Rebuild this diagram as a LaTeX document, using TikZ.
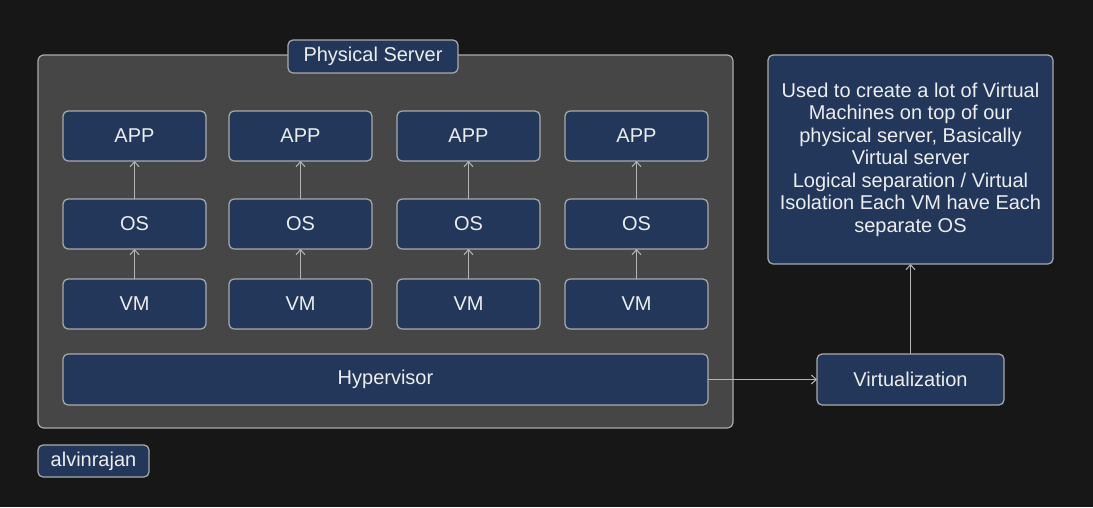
\documentclass[tikz,border=0pt]{standalone}
\usepackage{fontspec}
\setmainfont{Liberation Sans}
\usetikzlibrary{arrows.meta}
\definecolor{bgc}{HTML}{171717}
\definecolor{contc}{HTML}{464646}
\definecolor{boxc}{HTML}{22375A}
\definecolor{edgec}{HTML}{ABABAB}
\definecolor{txtc}{HTML}{EDEDED}
\definecolor{arrc}{HTML}{B5B5B5}
\begin{document}
\begin{tikzpicture}[x=1pt,y=-1pt,
  every node/.style={inner sep=0pt, outer sep=0pt, text=txtc, font=\fontsize{20}{22.5}\selectfont},
  box/.style={draw=edgec, fill=boxc, line width=1.2pt, rounded corners=5pt, rectangle},
  container/.style={draw=edgec, fill=contc, line width=1.2pt, rounded corners=6pt, rectangle},
  arr/.style={draw=arrc, line width=1pt, -{Straight Barb[length=5pt,width=9pt]}}
]
\fill[bgc] (0,0) rectangle (1093,507);
\useasboundingbox (0,0) rectangle (1093,507);

\node[container, minimum width=695, minimum height=373] (server) at (385.5,241.5) {};
\node[box, minimum width=170, minimum height=33] (ps) at (373,56.5) {Physical Server};

\foreach \i/\cx in {1/134.5, 2/300.5, 3/468.5, 4/636.5} {
  \node[box, minimum width=143, minimum height=50] (app\i) at (\cx,136) {APP};
  \node[box, minimum width=143, minimum height=50] (os\i) at (\cx,224) {OS};
  \node[box, minimum width=143, minimum height=50] (vm\i) at (\cx,304) {VM};
  \draw[arr] (os\i.north) -- (app\i.south);
  \draw[arr] (vm\i.north) -- (os\i.south);
}

\node[box, minimum width=645, minimum height=51] (hyp) at (385.5,379.5) {Hypervisor};
\node[box, minimum width=187, minimum height=51] (virt) at (910.5,379.5) {Virtualization};
\node[box, minimum width=285, minimum height=209, align=center] (desc) at (910.5,159.5)
  {Used to create a lot of Virtual\\Machines on top of our\\physical server, Basically\\Virtual server\\Logical separation / Virtual\\Isolation Each VM have Each\\separate OS};
\node[box, minimum width=111, minimum height=32] (author) at (93.5,461) {alvinrajan};

\draw[arr] (hyp.east) -- (virt.west);
\draw[arr] (virt.north) -- (desc.south);
\end{tikzpicture}
\end{document}
